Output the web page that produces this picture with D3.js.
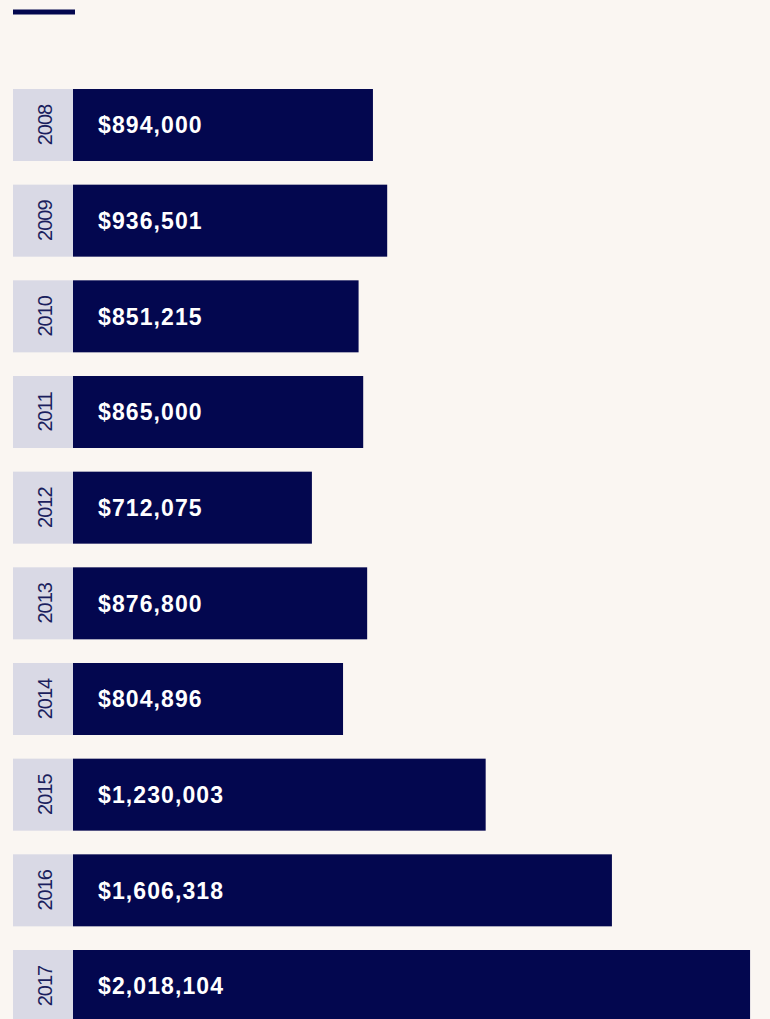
<!DOCTYPE html>
<html>
<head>
<meta charset="utf-8">
<script src="https://cdn.jsdelivr.net/npm/d3@7"></script>
<style>
  html, body { margin: 0; padding: 0; background: #faf6f2; overflow: hidden; }
  svg { display: block; }
</style>
</head>
<body>
<svg id="chart" width="770" height="1019"></svg>
<script>
const years = ["2008","2009","2010","2011","2012","2013","2014","2015","2016","2017"];
const values = [894000, 936501, 851215, 865000, 712075, 876800, 804896, 1230003, 1606318, 2018104];
const valueLabels = ["$894,000","$936,501","$851,215","$865,000","$712,075","$876,800","$804,896","$1,230,003","$1,606,318","$2,018,104"];

const navy = "#03074f";
const svg = d3.select("#chart");
svg.append("rect").attr("width", 770).attr("height", 1019).attr("fill", "#faf6f2");

// decorative top rule
svg.append("rect").attr("x", 13).attr("y", 9.5).attr("width", 62).attr("height", 5).attr("fill", navy);

const labelX0 = 13, barX0 = 73;
const x = d3.scaleLinear().domain([0, 2000000]).range([barX0, 744]);
const y = d3.scaleBand().domain(years).range([89, 1022]).paddingInner(0.2474).paddingOuter(0);

const data = years.map((yr, i) => ({ year: yr, value: values[i], label: valueLabels[i] }));

const g = svg.append("g");
const rows = g.selectAll("g.row").data(data).join("g").attr("class", "row");

rows.append("rect")
  .attr("x", labelX0).attr("y", d => y(d.year))
  .attr("width", barX0 - labelX0).attr("height", y.bandwidth())
  .attr("fill", "#d9d9e5");

rows.append("rect")
  .attr("x", barX0).attr("y", d => y(d.year))
  .attr("width", d => x(d.value) - barX0).attr("height", y.bandwidth())
  .attr("fill", navy);

rows.append("text")
  .attr("transform", d => `translate(52, ${y(d.year) + y.bandwidth() / 2}) rotate(-90)`)
  .attr("text-anchor", "middle")
  .attr("font-family", "'Liberation Sans', Arial, sans-serif")
  .attr("font-size", 20)
  .attr("letter-spacing", "-1px")
  .attr("fill", "#1b1f5e")
  .text(d => d.year);

rows.append("text")
  .attr("x", 98)
  .attr("y", d => y(d.year) + y.bandwidth() / 2 + 8.3)
  .attr("font-family", "'Liberation Sans', Arial, sans-serif")
  .attr("font-weight", "bold")
  .attr("font-size", 23)
  .attr("letter-spacing", "1.1px")
  .attr("fill", "#ffffff")
  .text(d => d.label);
</script>
</body>
</html>
